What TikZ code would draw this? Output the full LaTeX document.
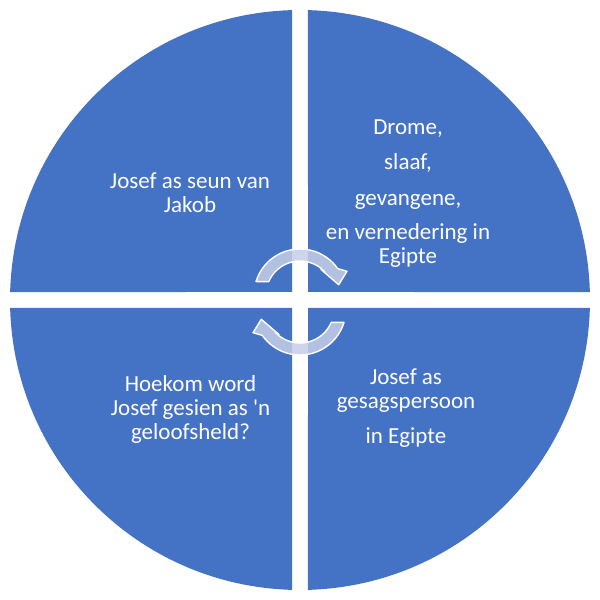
\documentclass[tikz,border=0pt]{standalone}
\usepackage{fontspec}
\newfontfamily\labelfont{Carlito}[Ligatures=TeXOff]
\definecolor{quadblue}{HTML}{4472C4}
\definecolor{arrowfill}{RGB}{198,206,232}
\tikzset{
  quad/.style={fill=quadblue},
  lbl/.style={text=white, align=center, anchor=north, inner sep=0pt,
    font=\labelfont\fontsize{23}{24}\selectfont},
  cyclearrow/.style={fill=arrowfill, fill opacity=0.85, draw=white, draw opacity=1, line width=1.4pt, line join=round}
}
\newcommand{\firstln}{\rule{0pt}{20pt}}
\begin{document}
\begin{tikzpicture}[x=1pt,y=1pt]
\useasboundingbox (0,0) rectangle (600,600);
% quadrants
\fill[quad] (308,308) -- ([shift={(300,300)}]88.42:290pt) arc[start angle=88.42,end angle=1.58,radius=290pt] -- cycle;
\fill[quad] (292,308) -- ([shift={(300,300)}]178.42:290pt) arc[start angle=178.42,end angle=91.58,radius=290pt] -- cycle;
\fill[quad] (292,292) -- ([shift={(300,300)}]268.42:290pt) arc[start angle=268.42,end angle=181.58,radius=290pt] -- cycle;
\fill[quad] (308,292) -- ([shift={(300,300)}]358.42:290pt) arc[start angle=358.42,end angle=271.58,radius=290pt] -- cycle;
% labels
\node[lbl] (tl) at (190,431.5) {\firstln Josef as seun van\\Jakob};
\node[lbl] (tr) at (408,486) {\firstln Drome,\\[11.5pt]slaaf,\\[11.5pt]gevangene,\\[10.5pt]en vernedering in\\Egipte};
\node[lbl] (bl) at (190.5,229) {\firstln Hoekom word\\Josef gesien as 'n\\geloofsheld?};
\node[lbl] (br) at (406,236) {\firstln Josef as\\gesagspersoon\\[11pt]in Egipte};
% cycle arrows
\path[cyclearrow] ([shift={(300,305)}]163:46pt) arc[start angle=163,end angle=35,radius=46pt]
  -- (347,328.7) -- (338.7,315.3) -- (321,330.5)
  -- ([shift={(300,305)}]43:34pt) arc[start angle=43,end angle=157,radius=34pt] -- cycle;
\begin{scope}[rotate around={180:(300,298)}]
\path[cyclearrow] ([shift={(300,305)}]163:46pt) arc[start angle=163,end angle=35,radius=46pt]
  -- (347,328.7) -- (338.7,315.3) -- (321,330.5)
  -- ([shift={(300,305)}]43:34pt) arc[start angle=43,end angle=157,radius=34pt] -- cycle;
\end{scope}
\end{tikzpicture}
\end{document}
